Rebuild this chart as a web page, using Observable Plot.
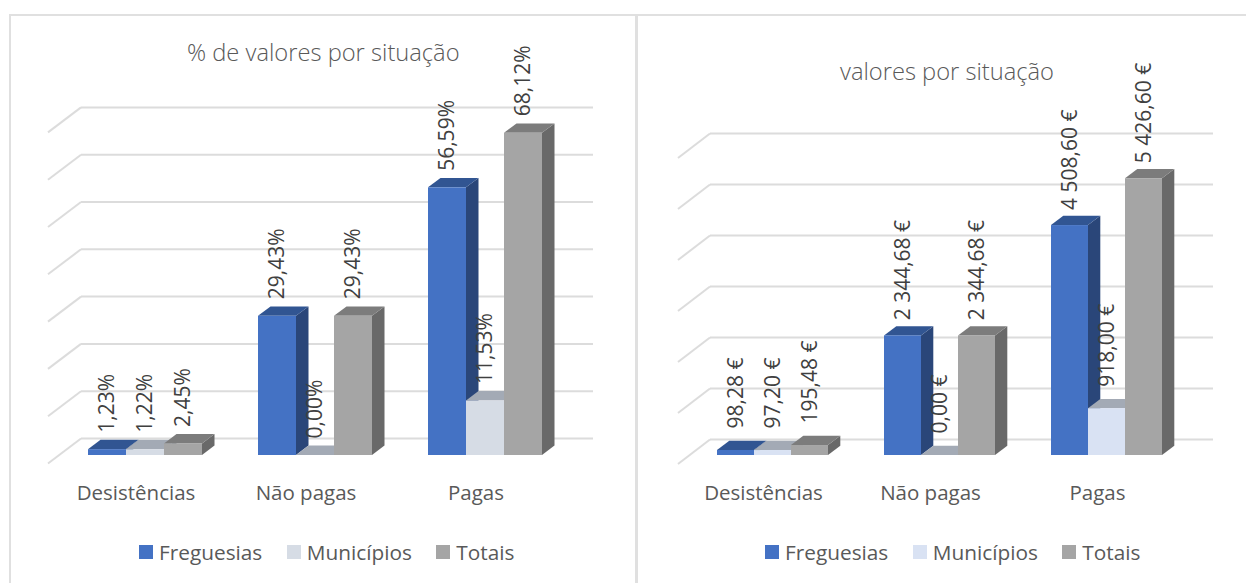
<!DOCTYPE html>
<html lang="pt">
<head>
<meta charset="utf-8">
<script src="https://cdn.jsdelivr.net/npm/d3@7"></script>
<script src="https://cdn.jsdelivr.net/npm/@observablehq/plot@0.6"></script>
<style>
  html, body { margin: 0; padding: 0; background: #fff; width: 1246px; height: 583px; overflow: hidden; }
  body { position: relative; font-family: "Open Sans", sans-serif; color: #595959; }
  .panel { position: absolute; top: 14px; height: 569px; box-sizing: border-box; border: 0 solid #e0e0e0; border-top-width: 2px; border-left-width: 2px; }
  .chart { position: absolute; top: 0; }
  .chart svg { display: block; background: transparent; }
  .title { position: absolute; white-space: nowrap; font-weight: 300; font-size: 23.7px; line-height: 28px; color: #595959; }
  .legend { position: absolute; top: 541px; display: flex; font-size: 20.8px; line-height: 22px; white-space: nowrap; }
  .legend span.item { display: flex; align-items: center; margin-right: 24.5px; }
  .legend i { display: inline-block; width: 14px; height: 14px; margin-right: 6px; }
</style>
</head>
<body>
<script>
const categories = ["Desistências", "Não pagas", "Pagas"];
const seriesNames = ["Freguesias", "Municípios", "Totais"];

const percentFreguesias = [1.23, 29.43, 56.59];
const percentMunicipios = [1.22, 0.00, 11.53];
const percentTotais = [2.45, 29.43, 68.12];
const percentTicks = [0, 10, 20, 30, 40, 50, 60, 70];

const euroFreguesias = [98.28, 2344.68, 4508.60];
const euroMunicipios = [97.20, 0.00, 918.00];
const euroTotais = [195.48, 2344.68, 5426.60];
const euroTicks = [0, 1000, 2000, 3000, 4000, 5000, 6000];

const frontLeft = ["#4472c4", "#d6dce5", "#a5a5a5"];
const frontRight = ["#4472c4", "#d9e2f3", "#a5a5a5"];
const topFaces = ["#315592", "#a3aab5", "#7c7c7c"];
const sideFaces = ["#2a4679", "#8f97a3", "#696969"];

const fmtDec = d3.formatLocale({decimal: ",", thousands: " ", grouping: [3], currency: ["", ""]}).format(",.2f");

function mount(node, left) {
  const holder = document.createElement("div");
  holder.className = "chart";
  holder.style.left = left + "px";
  holder.appendChild(node);
  document.body.appendChild(holder);
}

function drawChart(cfg) {
  const rows = [];
  categories.forEach((category, c) => seriesNames.forEach((series, s) => {
    const value = cfg.values[s][c];
    rows.push({category, series, value, label: cfg.format(value), s});
  }));

  const wall3d = (index, scales, values, dims, ctx, next) => {
    const g = next(index, scales, values, dims, ctx);
    const lines = Array.from(g.querySelectorAll("line"));
    for (const ln of lines) {
      const d = ln.cloneNode();
      const x = +ln.getAttribute("x1"), y = +ln.getAttribute("y1");
      d.setAttribute("x1", x);
      d.setAttribute("y1", y);
      d.setAttribute("x2", x - cfg.wallX);
      d.setAttribute("y2", y + cfg.wallY);
      g.appendChild(d);
    }
    return g;
  };

  const bar3d = (index, scales, values, dims, ctx, next) => {
    const g = next(index, scales, values, dims, ctx);
    const rects = Array.from(g.querySelectorAll("rect"));
    rects.forEach((r, k) => {
      const s = rows[index[k]].s;
      const x = +r.getAttribute("x"), y = +r.getAttribute("y");
      const w = +r.getAttribute("width"), h = +r.getAttribute("height");
      const side = document.createElementNS("http://www.w3.org/2000/svg", "path");
      side.setAttribute("d", `M${x + w},${y}L${x + w + cfg.depthX},${y - cfg.depthY}L${x + w + cfg.depthX},${y + h - cfg.depthY}L${x + w},${y + h}Z`);
      side.setAttribute("fill", sideFaces[s]);
      const top = document.createElementNS("http://www.w3.org/2000/svg", "path");
      top.setAttribute("d", `M${x},${y}L${x + cfg.depthX},${y - cfg.depthY}L${x + w + cfg.depthX},${y - cfg.depthY}L${x + w},${y}Z`);
      top.setAttribute("fill", topFaces[s]);
      g.insertBefore(side, r);
      g.insertBefore(top, r);
    });
    return g;
  };

  const labelMark = (filter, dy) => Plot.text(rows, {
    filter,
    fx: "category", x: "series", y: "value", text: "label",
    rotate: -90, textAnchor: "start", lineAnchor: "middle",
    dy, fontSize: cfg.labelSize, fill: "#404040"
  });

  const frame = {
    width: cfg.width,
    height: 583,
    marginLeft: cfg.marginLeft,
    marginRight: cfg.marginRight,
    marginTop: cfg.marginTop,
    marginBottom: 128,
    style: {fontFamily: "'Open Sans', sans-serif", background: "transparent", overflow: "visible"},
    y: {domain: cfg.yDomain, axis: null}
  };

  const wall = Plot.plot({
    ...frame,
    marks: [
      Plot.ruleY(cfg.ticks, {y: d => d, dy: -cfg.wallLift, stroke: "#dcdcdc", strokeWidth: 2, render: wall3d})
    ]
  });

  const bars = Plot.plot({
    ...frame,
    fx: {domain: categories, range: cfg.fxRange, paddingInner: cfg.fxPadding, paddingOuter: 0, axis: null, label: null},
    x: {domain: seriesNames, padding: 0, axis: null},
    color: {domain: seriesNames, range: cfg.front},
    marks: [
      Plot.barY(rows, {fx: "category", x: "series", y: "value", fill: "series", render: bar3d}),
      ...cfg.labelGroups.map(([f, dy]) => labelMark(f, dy)),
      Plot.axisFx({anchor: "bottom", tickSize: 0, tickPadding: cfg.axisPad, dx: cfg.axisDx, fontSize: 20.5, fill: "#595959", label: null})
    ]
  });
  mount(wall, cfg.left);
  mount(bars, cfg.left);

  const title = document.createElement("div");
  title.className = "title";
  title.textContent = cfg.title;
  title.style.left = cfg.titleX + "px";
  title.style.top = cfg.titleY + "px";
  document.body.appendChild(title);

  const legend = document.createElement("div");
  legend.className = "legend";
  legend.style.left = cfg.legendX + "px";
  seriesNames.forEach((name, s) => {
    const item = document.createElement("span");
    item.className = "item";
    const sw = document.createElement("i");
    sw.style.background = cfg.front[s];
    item.appendChild(sw);
    item.appendChild(document.createTextNode(name));
    legend.appendChild(item);
  });
  document.body.appendChild(legend);
}

for (const [left, width, border] of [[9, 626, 2], [635, 611, 3]]) {
  const p = document.createElement("div");
  p.className = "panel";
  p.style.left = left + "px";
  p.style.width = width + "px";
  p.style.borderLeftWidth = border + "px";
  document.body.appendChild(p);
}

drawChart({
  title: "% de valores por situação", titleX: 187, titleY: 38,
  legendX: 139,
  values: [percentFreguesias, percentMunicipios, percentTotais],
  format: v => fmtDec(v) + "%",
  ticks: percentTicks, yDomain: [0, 80], marginTop: 76.6,
  left: 0, width: 636, marginLeft: 81, marginRight: 43,
  fxRange: [87, 541.6], fxPadding: 0.332,
  wallLift: 17, wallX: 33, wallY: 25, depthX: 12.5, depthY: 9.4,
  front: frontLeft, labelSize: 21, axisPad: 30, axisDx: -9.5,
  labelGroups: [[() => true, -17]]
});

drawChart({
  title: "valores por situação", titleX: 840, titleY: 57,
  legendX: 765,
  values: [euroFreguesias, euroMunicipios, euroTotais],
  format: v => fmtDec(v) + " €",
  ticks: euroTicks, yDomain: [0, 7000], marginTop: 98,
  left: 638, width: 608, marginLeft: 72, marginRight: 33,
  fxRange: [77.5, 524.7], fxPadding: 0.331,
  wallLift: 16, wallX: 32, wallY: 24.5, depthX: 12.3, depthY: 9.2,
  front: frontRight, labelSize: 21, axisPad: 30, axisDx: -9,
  labelGroups: [[d => d.value >= 1000, -15.6], [d => d.value < 1000, -22]]
});
</script>
</body>
</html>
